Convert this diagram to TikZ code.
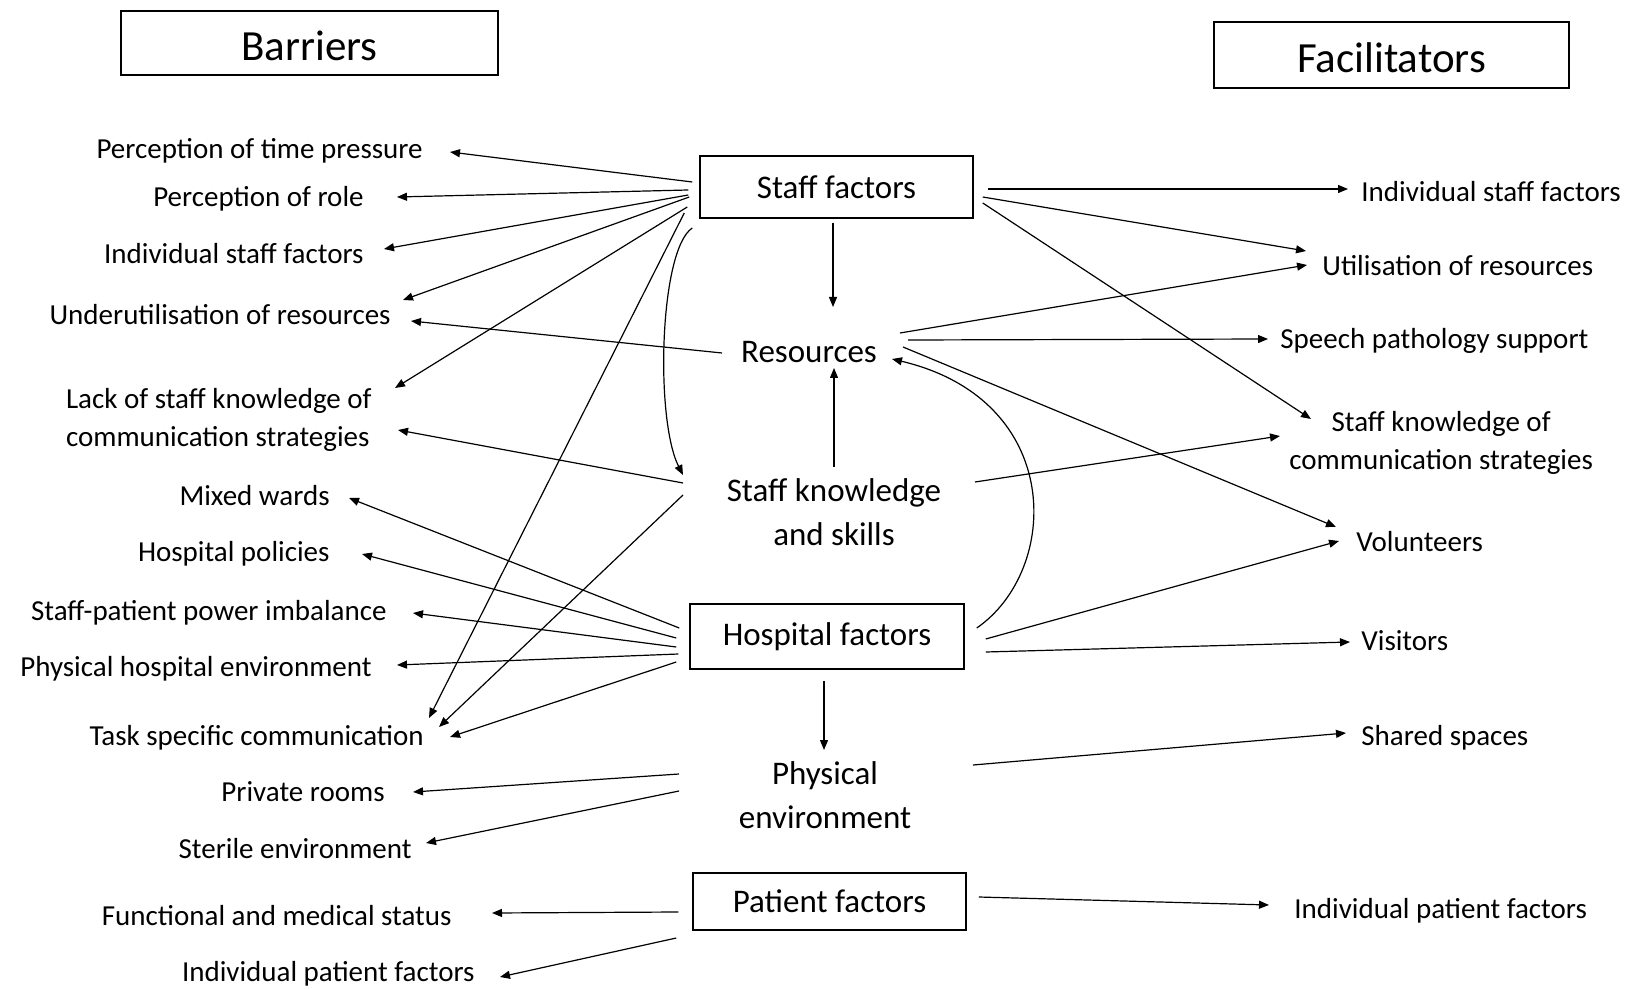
\documentclass[tikz,border=0pt]{standalone}
\usepackage{fontspec}
\setmainfont{Carlito}
\usetikzlibrary{arrows.meta,calc}
\begin{document}
\begin{tikzpicture}[x=0.5pt,y=-0.5pt,
  lab/.style={inner sep=0pt, font=\fontsize{14.5}{19}\selectfont, text height=10pt, text depth=1.8pt},
  labm/.style={inner sep=0pt, font=\fontsize{14.5}{19}\selectfont},
  cen/.style={inner sep=0pt, font=\fontsize{16.5}{22}\selectfont, align=center},
  box/.style={draw, line width=0.75pt, inner sep=0pt, font=\fontsize{16.5}{22}\selectfont},
  ttl/.style={draw, line width=0.75pt, inner sep=0pt, font=\fontsize{21.5}{26}\selectfont, text height=18pt, text depth=0pt},
  arr/.style={line width=0.6pt, -{Triangle[length=5pt,width=4pt]}},
]
\useasboundingbox[fill=white] (0,0) rectangle (1632,989);

% titles
\node[ttl, minimum width=188.5pt, minimum height=32pt] (bar) at (309.5,43) {Barriers};
\node[ttl, minimum width=177.5pt, minimum height=33pt] (fac) at (1391.5,55) {Facilitators};

% central
\node[box, minimum width=136.5pt, minimum height=31pt] (sf) at (836.5,187) {Staff factors};
\node[cen] (res) at (809,352) {Resources};
\node[cen] (sk) at (834,512) {Staff knowledge\\and skills};
\node[box, minimum width=137pt, minimum height=32.5pt] (hf) at (827,636.5) {Hospital factors};
\node[cen] (pe) at (825,795) {Physical\\environment};
\node[box, minimum width=136.5pt, minimum height=28.5pt] (pf) at (829.5,901.5) {Patient factors};

% left labels
\node[lab, anchor=east] (l1) at (423,150) {Perception of time pressure};
\node[lab, anchor=east] (l2) at (364,198) {Perception of role};
\node[lab, anchor=east] (l3) at (364,255) {Individual staff factors};
\node[lab, anchor=east] (l4) at (391,316) {Underutilisation of resources};
\node[labm, anchor=east, align=left] (l5) at (372,420) {Lack of staff knowledge of\\communication strategies};
\node[lab, anchor=east] (l6) at (330,497) {Mixed wards};
\node[lab, anchor=east] (l7) at (330,553) {Hospital policies};
\node[lab, anchor=east] (l8) at (387,612) {Staff-patient power imbalance};
\node[lab, anchor=east] (l9) at (372,668) {Physical hospital environment};
\node[lab, anchor=east] (l10) at (424,737) {Task specific communication};
\node[lab, anchor=east] (l11) at (385,793) {Private rooms};
\node[lab, anchor=east] (l12) at (412,850) {Sterile environment};
\node[lab, anchor=east] (l13) at (452,917) {Functional and medical status};
\node[lab, anchor=east] (l14) at (475,973) {Individual patient factors};

% right labels
\node[lab, anchor=west] (r1) at (1361,193) {Individual staff factors};
\node[lab, anchor=west] (r2) at (1322,267) {Utilisation of resources};
\node[lab, anchor=west] (r3) at (1280,340) {Speech pathology support};
\node[labm, anchor=west, align=center] (r4) at (1289,443) {Staff knowledge of\\communication strategies};
\node[lab, anchor=west] (r5) at (1356,543) {Volunteers};
\node[lab, anchor=west] (r6) at (1361,642) {Visitors};
\node[lab, anchor=west] (r7) at (1361,737) {Shared spaces};
\node[lab, anchor=west] (r8) at (1294,910) {Individual patient factors};

% Staff factors
\draw[arr] ($(sf.west)+(-7,-5)$) -- ($(l1.east)+(27,2)$);
\draw[arr] ($(sf.west)+(-11,3)$) -- ($(l2.east)+(33,-1)$);
\draw[arr] ($(sf.west)+(-11,8)$) -- ($(l3.east)+(20,-6)$);
\draw[arr] ($(sf.west)+(-10,10)$) -- ($(l4.east)+(12,-16)$);
\draw[arr] ($(sf.west)+(-12,20)$) -- ($(l5.east)+(23,-32)$);
\draw[arr] ($(sf.west)+(-15,26)$) -- ($(l10.east)+(5,-19)$);
\draw[arr] ($(sf.west)+(-7,41)$) .. controls ($(sf.west)+(-40,63)$) and ($(sk.center)+(-179,-92)$) .. ($(sk.center)+(-151,-37)$);
\draw[arr] ($(sf.east)+(14,2)$) -- ($(r1.west)+(-13,-4)$);
\draw[arr] ($(sf.east)+(9,10)$) -- ($(r2.west)+(-16,-16)$);
\draw[arr] ($(sf.east)+(9,16)$) -- ($(r4.west)+(22,-24)$);
\draw[arr] ($(sf.south)+(-3.5,4)$) -- ($(res.center)+(24,-45)$);

% Resources
\draw[arr] ($(res.center)+(-87,1)$) -- ($(l4.east)+(20,5)$);
\draw[arr] ($(res.center)+(91,-19)$) -- ($(r2.west)+(-15,-2)$);
\draw[arr] ($(res.center)+(99,-12)$) -- ($(r3.west)+(-12,-1)$);
\draw[arr] ($(res.center)+(94,-5)$) -- ($(r5.west)+(-20,-16)$);

% Staff knowledge and skills
\draw[arr] ($(sk.center)+(-151,-29)$) -- ($(l5.east)+(26,10)$);
\draw[arr] ($(sk.center)+(-151,-17)$) -- ($(l10.east)+(15,-10)$);
\draw[arr] ($(sk.center)+(0,-45)$) -- ($(res.center)+(25,16)$);
\draw[arr] ($(sk.center)+(141,-30)$) -- ($(r4.west)+(-9,-7)$);

% Hospital factors
\draw[arr] ($(hf.west)+(-10,-8.5)$) -- ($(l6.east)+(19,1)$);
\draw[arr] ($(hf.west)+(-13,1.5)$) -- ($(l7.east)+(32,1)$);
\draw[arr] ($(hf.west)+(-13,10.5)$) -- ($(l8.east)+(26,1)$);
\draw[arr] ($(hf.west)+(-11,17.5)$) -- ($(l9.east)+(25,-3)$);
\draw[arr] ($(hf.west)+(-13,25.5)$) -- ($(l10.east)+(26,0)$);
\draw[arr] ($(hf.east)+(12,-8.5)$) .. controls ($(hf.east)+(96,-66.5)$) and ($(res.center)+(256,48)$) .. ($(res.center)+(83,7)$);
\draw[arr] ($(hf.east)+(21,2.5)$) -- ($(r5.west)+(-17,-2)$);
\draw[arr] ($(hf.east)+(21,15.5)$) -- ($(r6.west)+(-11,0)$);
\draw[arr] ($(hf.south)+(-3,11)$) -- ($(pe.center)+(-1,-45)$);

% Physical environment
\draw[arr] ($(pe.center)+(-146,-21)$) -- ($(l11.east)+(28,-1)$);
\draw[arr] ($(pe.center)+(-146,-4)$) -- ($(l12.east)+(14,-7)$);
\draw[arr] ($(pe.center)+(148,-30)$) -- ($(r7.west)+(-15,-4)$);

% Patient factors
\draw[arr] ($(pf.west)+(-14,10.5)$) -- ($(l13.east)+(40,-4)$);
\draw[arr] ($(pf.west)+(-16,36.5)$) -- ($(l14.east)+(25,4)$);
\draw[arr] ($(pf.east)+(12,-4.5)$) -- ($(r8.west)+(-25,-5)$);
\end{tikzpicture}
\end{document}
